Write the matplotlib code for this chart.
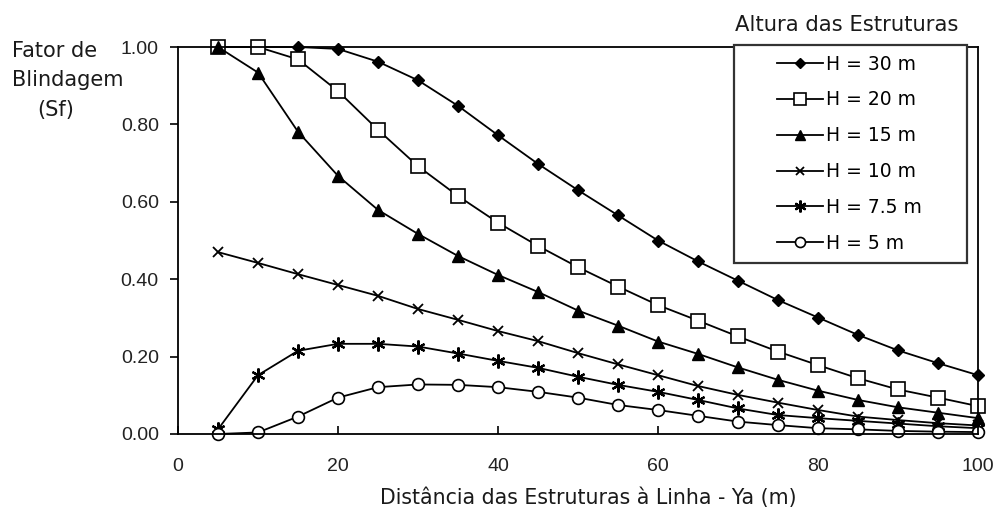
import matplotlib
matplotlib.use("Agg")
import matplotlib.pyplot as plt
from matplotlib.patches import Rectangle

plt.rcParams['font.family'] = ['DejaVu Sans']
TICK_FONT = ['Liberation Sans', 'DejaVu Sans']

# distance from the line, Ya (m)
ya = [5, 10, 15, 20, 25, 30, 35, 40, 45, 50, 55, 60, 65, 70, 75, 80, 85, 90, 95, 100]

# shielding factor Sf for each structure height
sf_h30 = [1.00, 1.00, 1.00, 0.995, 0.962, 0.914, 0.848, 0.772, 0.698, 0.630,
          0.565, 0.500, 0.446, 0.396, 0.346, 0.301, 0.256, 0.216, 0.183, 0.152]
sf_h20 = [1.00, 1.00, 0.968, 0.886, 0.786, 0.692, 0.615, 0.546, 0.486, 0.431,
          0.381, 0.333, 0.293, 0.252, 0.213, 0.178, 0.144, 0.115, 0.094, 0.072]
sf_h15 = [1.00, 0.934, 0.781, 0.667, 0.579, 0.517, 0.460, 0.411, 0.367, 0.319,
          0.280, 0.239, 0.207, 0.172, 0.140, 0.112, 0.088, 0.069, 0.055, 0.041]
sf_h10 = [0.470, 0.442, 0.413, 0.385, 0.357, 0.323, 0.295, 0.266, 0.240, 0.209,
          0.180, 0.152, 0.124, 0.101, 0.081, 0.062, 0.045, 0.036, 0.028, 0.022]
sf_h75 = [0.012, 0.152, 0.215, 0.233, 0.233, 0.226, 0.208, 0.189, 0.171, 0.148,
          0.127, 0.109, 0.088, 0.066, 0.049, 0.041, 0.034, 0.027, 0.020, 0.015]
sf_h5 = [0.000, 0.004, 0.045, 0.094, 0.121, 0.128, 0.127, 0.121, 0.109, 0.094,
         0.075, 0.062, 0.047, 0.032, 0.023, 0.015, 0.012, 0.008, 0.006, 0.005]

labels = ["H = 30 m", "H = 20 m", "H = 15 m", "H = 10 m", "H = 7.5 m", "H = 5 m"]
x_ticks = [0, 20, 40, 60, 80, 100]
y_ticks = [0.0, 0.2, 0.4, 0.6, 0.8, 1.0]

W, H = 997, 508
fig = plt.figure(figsize=(W / 100, H / 100), dpi=100)
ax = fig.add_axes([178 / W, 1 - 434 / H, 800 / W, 387 / H])

styles = [
    dict(marker='D', ms=6.5, mfc='black', mec='black'),
    dict(marker='s', ms=10, mfc='white', mec='black', mew=1.2),
    dict(marker='^', ms=8, mfc='black', mec='black'),
    dict(marker='x', ms=7.5, mec='black', mew=1.3),
    dict(marker=(6, 2, 0), ms=10, mec='black', mew=1.6),
    dict(marker='o', ms=8.5, mfc='white', mec='black', mew=1.2),
]
series = [sf_h30, sf_h20, sf_h15, sf_h10, sf_h75, sf_h5]

handles = []
for vals, lab, st in zip(series, labels, styles):
    ln, = ax.plot(ya, vals, color='black', lw=1.3, label=lab, clip_on=False, **st)
    handles.append(ln)

ax.set_xlim(0, 100)
ax.set_ylim(0, 1.0)
ax.set_xticks(x_ticks)
ax.set_yticks(y_ticks)
ax.set_yticklabels(["%.2f" % v for v in y_ticks])
ax.tick_params(axis='x', direction='in', length=5.8, width=1.2, labelsize=14,
               pad=17, labelcolor='#222222')
ax.tick_params(axis='y', direction='out', length=5.8, width=1.2, labelsize=14,
               pad=8, labelcolor='#222222')
for t in ax.get_xticklabels() + ax.get_yticklabels():
    t.set_fontfamily(TICK_FONT)
for sp in ax.spines.values():
    sp.set_linewidth(1.3)

ax.set_xlabel("Distância das Estruturas à Linha - Ya (m)", fontsize=14.8,
              color='#1a1a1a')
ax.xaxis.set_label_coords(0.5125, -0.137)

# y axis title, top left
fig.text(12 / W, 1 - 51 / H, "Fator de", ha='left', va='center',
         fontsize=15, color='#1a1a1a')
fig.text(12 / W, 1 - 80 / H, "Blindagem", ha='left', va='center',
         fontsize=15, color='#1a1a1a')
fig.text(37 / W, 1 - 110 / H, "(Sf)", ha='left', va='center',
         fontsize=15, color='#1a1a1a')

# legend: frame drawn separately, title sits above it
frame = Rectangle((734 / W, 1 - 263 / H), 233 / W, 218 / H,
                  transform=fig.transFigure, facecolor='white',
                  edgecolor='#333333', lw=1.6, zorder=3)
fig.add_artist(frame)
leg = fig.legend(handles, labels, loc='upper left',
                 bbox_to_anchor=(777 / W, 1 - 54.5 / H), fontsize=13.5,
                 frameon=False, handlelength=2.44, handletextpad=0.18,
                 labelspacing=0.9, borderpad=0, borderaxespad=0,
                 markerscale=0.85)
leg.set_zorder(4)
fig.text(846.5 / W, 1 - 31 / H, "Altura das Estruturas", ha='center',
         va='baseline', fontsize=15.2, color='#1a1a1a')

fig.savefig("out.png", dpi=100)
